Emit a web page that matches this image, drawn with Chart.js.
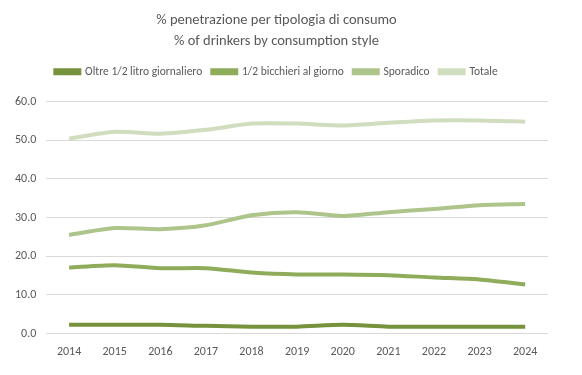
<!DOCTYPE html>
<html>
<head>
<meta charset="utf-8">
<script src="https://cdn.jsdelivr.net/npm/chart.js@4"></script>
<style>
	html, body { margin: 0; padding: 0; background: #ffffff; }
	#wrap { width: 582px; height: 375px; }
</style>
</head>
<body>
<div id="wrap"><canvas id="chart"></canvas></div>
<script>
// Chart data
const years = ['2014','2015','2016','2017','2018','2019','2020','2021','2022','2023','2024'];
const oltreMezzoLitro = [2.3, 2.3, 2.3, 2.0, 1.8, 1.8, 2.3, 1.8, 1.8, 1.8, 1.8];
const unoDueBicchieri = [17.1, 17.7, 16.9, 16.9, 15.8, 15.3, 15.3, 15.1, 14.5, 14.0, 12.7];
const sporadico = [25.5, 27.3, 27.0, 28.0, 30.6, 31.4, 30.4, 31.4, 32.2, 33.2, 33.5];
const totale = [50.4, 52.2, 51.7, 52.7, 54.3, 54.3, 53.8, 54.5, 55.1, 55.1, 54.8];

const seriesLabels = ['Oltre 1/2 litro giornaliero', '1/2 bicchieri al giorno', 'Sporadico', 'Totale'];
const yTicks = [0, 10, 20, 30, 40, 50, 60];

// Series colours (olive shades)
const colours = ['#76923c', '#8fac5b', '#adc48a', '#d0ddbe'];

const textColour = '#595959';
const fontFamily = "Calibri, Carlito, 'Open Sans', sans-serif";

// Build the datasets
const seriesData = [oltreMezzoLitro, unoDueBicchieri, sporadico, totale];
const datasets = seriesData.map((data, i) => ({
	label: seriesLabels[i],
	data: data,
	borderColor: colours[i],
	backgroundColor: colours[i],
	borderWidth: 4,
	pointRadius: 0,
	tension: 0.25,
	fill: false
}));

// Extra room between the legend and the plot area
const legendGap = {
	id: 'legendGap',
	beforeInit (chart) {
		const fit = chart.legend.fit;
		chart.legend.fit = function () {
			fit.bind(chart.legend)();
			this.height += 14;
		};
	}
};

new Chart(document.getElementById('chart').getContext('2d'), {
	type: 'line',
	data: {
		labels: years,
		datasets: datasets
	},
	plugins: [legendGap],
	options: {
		responsive: true,
		maintainAspectRatio: false,
		animation: false,
		layout: {
			padding: { left: 5, right: 34, top: 6, bottom: 13 }
		},
		plugins: {
			title: {
				display: true,
				text: ['% penetrazione per tipologia di consumo', '% of drinkers by consumption style'],
				color: textColour,
				font: { family: fontFamily, size: 14.5, weight: 'normal', lineHeight: 1.45 },
				padding: { top: 4, bottom: 4 }
			},
			legend: {
				display: true,
				position: 'top',
				labels: {
					color: textColour,
					font: { family: fontFamily, size: 11.5 },
					boxWidth: 24,
					boxHeight: 3,
					padding: 10
				}
			},
			tooltip: { enabled: false }
		},
		scales: {
			x: {
				offset: true,
				grid: { display: false },
				border: { display: false },
				ticks: {
					color: textColour,
					font: { family: fontFamily, size: 12 },
					maxRotation: 0
				}
			},
			y: {
				min: 0,
				max: 60,
				afterBuildTicks: axis => { axis.ticks = yTicks.map(v => ({ value: v })); },
				grid: { color: '#d9d9d9', lineWidth: 1, drawTicks: false },
				border: { display: false },
				ticks: {
					color: textColour,
					font: { family: fontFamily, size: 12 },
					padding: 10,
					callback: v => v.toFixed(1)
				}
			}
		}
	}
});
</script>
</body>
</html>
